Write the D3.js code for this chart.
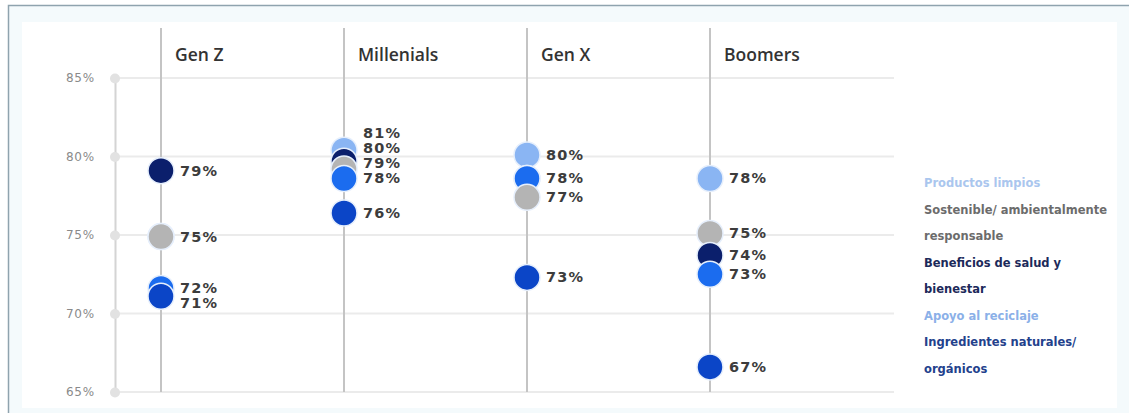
<!DOCTYPE html>
<html>
<head>
<meta charset="utf-8">
<script src="https://cdn.jsdelivr.net/npm/d3@7/dist/d3.min.js"></script>
<style>
  html, body { margin: 0; padding: 0; background: #ffffff; }
  svg { display: block; }
</style>
</head>
<body>
<svg id="chart" width="1129" height="413"></svg>
<script>
// ---------- data ----------
const generations = ["Gen Z", "Millenials", "Gen X", "Boomers"];
const seriesNames = [
  "Productos limpios",
  "Sostenible/ ambientalmente responsable",
  "Beneficios de salud y bienestar",
  "Apoyo al reciclaje",
  "Ingredientes naturales/ orgánicos"
];
// dot positions (per generation)
const productosLimpios   = [74.9, 80.4, 80.1, 78.6];
const sostenible         = [74.9, 79.2, 77.4, 75.1];
const beneficiosSalud    = [79.1, 79.7, 78.6, 73.7];
const apoyoReciclaje     = [71.6, 78.6, 78.6, 72.5];
const ingredientesNat    = [71.1, 76.4, 72.3, 66.6];
// printed labels (null = no label shown)
const labelsProductos    = [null, 81, 80, 78];
const labelsSostenible   = [75, 79, 77, 75];
const labelsBeneficios   = [79, 80, null, 74];
const labelsApoyo        = [72, 78, 78, 73];
const labelsIngredientes = [71, 76, 73, 67];
const yTicks = [65, 70, 75, 80, 85];

// ---------- style ----------
const dotColors    = ["#8ab5f3", "#b4b4b4", "#0b1f6c", "#1b6cef", "#0b45c7"];
const legendColors = ["#aac6ee", "#6c6c6c", "#1c2a5a", "#8bb0e8", "#23418c"];
const seriesValues = [productosLimpios, sostenible, beneficiosSalud, apoyoReciclaje, ingredientesNat];
const seriesLabels = [labelsProductos, labelsSostenible, labelsBeneficios, labelsApoyo, labelsIngredientes];
const anchorSeries = 3;

const svg = d3.select("#chart");

// frame
svg.append("rect").attr("x", 8.5).attr("y", 5.5).attr("width", 1130).attr("height", 420)
  .attr("fill", "#f4fafc").attr("stroke", "#8fa3ae").attr("stroke-width", 1.5);
svg.append("rect").attr("x", 22).attr("y", 22).attr("width", 1095).attr("height", 386)
  .attr("fill", "#ffffff");

const y = d3.scaleLinear().domain([65, 85]).range([392, 78]);
const x = d3.scalePoint().domain(generations).range([161, 710]);
const axisX = 115, gridRight = 894;

// gridlines
svg.append("g").selectAll("line").data(yTicks).join("line")
  .attr("x1", axisX).attr("x2", gridRight)
  .attr("y1", d => y(d)).attr("y2", d => y(d))
  .attr("stroke", "#ebebeb").attr("stroke-width", 2);

// y axis via d3 axis
const yAxis = d3.axisLeft(y).tickValues(yTicks).tickFormat(d => d + "%").tickSize(0).tickPadding(20);
const gy = svg.append("g").attr("transform", `translate(${axisX},0)`).call(yAxis);
gy.select(".domain").attr("stroke", "#d4d4d4").attr("stroke-width", 2);
gy.selectAll("text").attr("fill", "#8a8a8a").attr("font-family", "DejaVu Sans, sans-serif")
  .attr("font-size", 12).attr("letter-spacing", 0.8);
gy.selectAll(".tick").append("circle").attr("r", 5).attr("fill", "#e2e2e2");

// category lines + titles
const cat = svg.append("g").selectAll("g").data(generations).join("g")
  .attr("transform", d => `translate(${x(d)},0)`);
cat.append("line").attr("y1", 28).attr("y2", y(65))
  .attr("stroke", "#c4c4c4").attr("stroke-width", 2);
cat.append("text").attr("x", 14).attr("y", 61).text(d => d)
  .attr("font-family", "Open Sans, sans-serif").attr("font-weight", 600)
  .attr("font-size", 17.5).attr("fill", "#333");

// dots (descending value => lower values drawn in front)
const dots = [];
generations.forEach((g, gi) => {
  seriesValues.forEach((vals, si) => {
    dots.push({ g, gi, si, v: vals[gi], label: seriesLabels[si][gi] });
  });
});
const drawOrder = dots.slice().sort((a, b) => (b.v - a.v) || (a.si - b.si));
svg.append("g").selectAll("circle").data(drawOrder).join("circle")
  .attr("cx", d => x(d.g)).attr("cy", d => y(d.v)).attr("r", 13)
  .attr("fill", d => dotColors[d.si])
  .attr("stroke", "#e6effc").attr("stroke-width", 1.5);

// labels: spread outward from anchor label with min gap
const gap = 15;
const labelG = svg.append("g");
generations.forEach((g, gi) => {
  const ls = dots.filter(d => d.gi === gi && d.label != null)
    .map(d => ({ ...d, ly: y(d.v) }))
    .sort((a, b) => a.ly - b.ly);
  let ai = ls.findIndex(d => d.si === anchorSeries);
  if (ai < 0) ai = ls.length - 1;
  for (let i = ai - 1; i >= 0; i--) ls[i].ly = Math.min(ls[i].ly, ls[i + 1].ly - gap);
  for (let i = ai + 1; i < ls.length; i++) ls[i].ly = Math.max(ls[i].ly, ls[i - 1].ly + gap);
  labelG.selectAll(null).data(ls).join("text")
    .attr("x", d => x(d.g) + 19).attr("y", d => d.ly)
    .attr("dominant-baseline", "central")
    .attr("font-family", "DejaVu Sans, sans-serif").attr("font-weight", "bold")
    .attr("font-size", 14.5).attr("letter-spacing", 1.2)
    .attr("fill", "#3c3c3c").text(d => d.label + "%");
});

// legend with wrapping
const legend = svg.append("g").attr("transform", "translate(924,0)");
let ly = 183;
const maxW = 196;
seriesNames.forEach((name, si) => {
  const words = name.split(" ");
  let line = [];
  const mk = () => legend.append("text").attr("x", 0).attr("y", ly)
    .attr("dominant-baseline", "central")
    .attr("font-family", "DejaVu Sans, sans-serif").attr("font-weight", "bold")
    .attr("font-size", 11.5).attr("fill", legendColors[si]);
  let t = mk();
  words.forEach(w => {
    line.push(w);
    t.text(line.join(" "));
    if (t.node().getComputedTextLength() > maxW && line.length > 1) {
      line.pop();
      t.text(line.join(" "));
      ly += 26.5;
      line = [w];
      t = mk().text(w);
    }
  });
  ly += 26.5;
});
</script>
</body>
</html>
